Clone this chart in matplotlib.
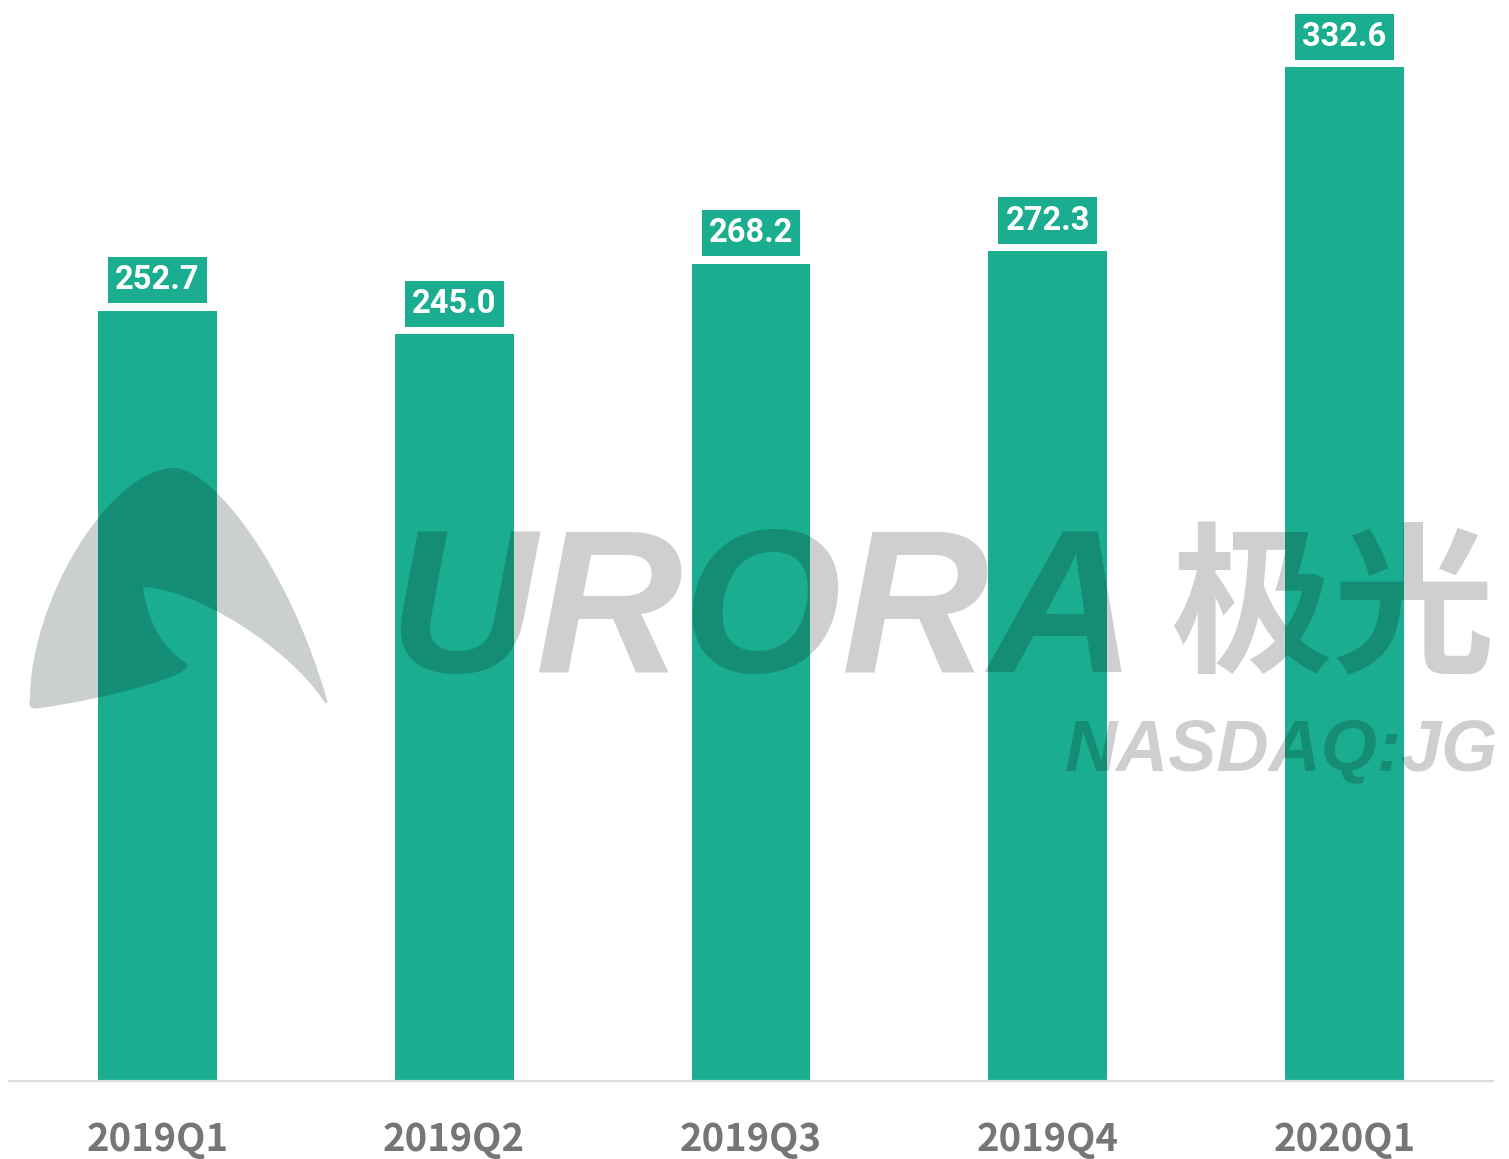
import matplotlib
matplotlib.use("Agg")
import matplotlib.pyplot as plt
from matplotlib.path import Path
from matplotlib.patches import PathPatch

categories = ["2019Q1", "2019Q2", "2019Q3", "2019Q4", "2020Q1"]
values = [252.7, 245.0, 268.2, 272.3, 332.6]

W, H = 1509, 1159
DPI = 100
fig = plt.figure(figsize=(W / DPI, H / DPI), dpi=DPI)
ax = fig.add_axes([9 / W, 78 / H, 1484 / W, 1 - 78 / H])

GREEN = "#1aad8f"
bars = ax.bar(range(len(values)), values, width=0.4, color=GREEN, zorder=2)
ax.set_xlim(-0.5, len(values) - 0.5)
ax.set_ylim(0, 354.7)

for i, v in enumerate(values):
    ax.annotate(f"{v:.1f}", xy=(i, v), xytext=(0, 22), textcoords="offset points",
                ha="center", va="center", fontsize=23.5, fontweight="bold",
                family=["Roboto", "DejaVu Sans"], color="white",
                bbox=dict(boxstyle="square,pad=0.22", fc=GREEN, ec="none"), zorder=3)

ax.set_xticks(range(len(values)))
ax.set_xticklabels(categories, fontsize=27.5, fontweight="bold", color="#767676",
                   family=["Noto Sans CJK SC", "DejaVu Sans"])
ax.tick_params(axis="x", length=0, pad=28)
ax.set_yticks([])
for s in ["left", "right", "top"]:
    ax.spines[s].set_visible(False)
ax.spines["bottom"].set_color("#dddddd")
ax.spines["bottom"].set_linewidth(1.6)

# ---- watermark ----
def fp(x, y):
    return (x / W, 1 - y / H)

verts = [fp(30, 700),
         fp(30, 600), fp(110, 468), fp(175, 468),
         fp(215, 470), fp(290, 570), fp(327, 700),
         fp(329, 704), fp(325, 704), fp(323, 700),
         fp(290, 650), fp(200, 590), fp(143, 587),
         fp(148, 625), fp(165, 650), fp(186, 663),
         fp(200, 675), fp(100, 700), fp(40, 708),
         fp(30, 710), fp(28, 705), fp(30, 700),
         fp(30, 700)]
codes = [Path.MOVETO] + [Path.CURVE4] * 21 + [Path.CLOSEPOLY]
logo = PathPatch(Path(verts, codes), transform=fig.transFigure,
                 fc=(0.0, 0.07, 0.07), ec="none", alpha=0.2, zorder=10)
fig.patches.append(logo)

WM = dict(color="black", alpha=0.19, zorder=10)
fig.text(*fp(388, 672), "URORA", fontsize=147, fontweight="bold", style="italic",
         family=["Liberation Sans", "DejaVu Sans"], ha="left", va="baseline", **WM)
fig.text(*fp(1170, 613), "极光", fontsize=117, fontweight="bold",
         family=["Noto Sans CJK SC", "DejaVu Sans"], ha="left", va="center", **WM)
fig.text(*fp(1065, 770), "NASDAQ:JG", fontsize=52, fontweight="bold", style="italic",
         family=["Liberation Sans", "DejaVu Sans"], ha="left", va="baseline", **WM)

fig.savefig("out.png", dpi=DPI)
